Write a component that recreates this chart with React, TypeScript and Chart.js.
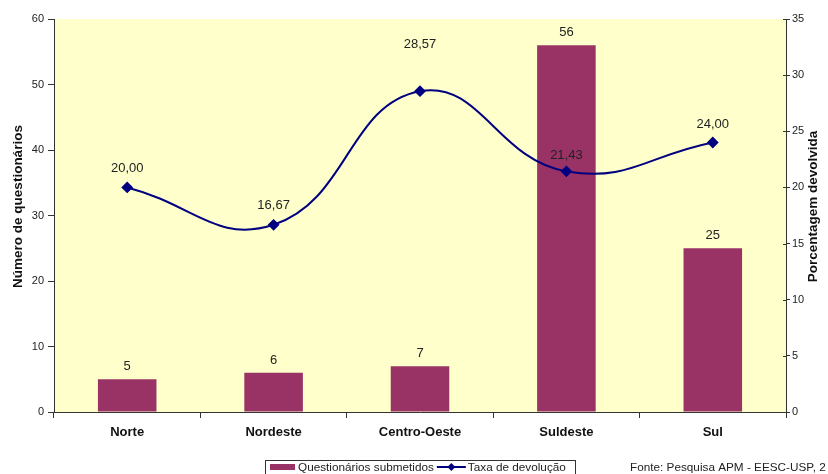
import React, { useEffect, useRef } from "react";
import { Chart, registerables } from "chart.js";

Chart.register(...registerables);

const categories = ["Norte", "Nordeste", "Centro-Oeste", "Suldeste", "Sul"];
const questionarios = [5, 6, 7, 56, 25];
const taxaDevolucao = [20.0, 16.67, 28.57, 21.43, 24.0];
const leftAxisTitle = "Número de questionários";
const rightAxisTitle = "Porcentagem devolvida";
const barLabel = "Questionários submetidos";
const lineLabel = "Taxa de devolução";
const sourceText = "Fonte: Pesquisa APM - EESC-USP, 2";

const FONT = "'Liberation Sans', Arial, sans-serif";
const BAR_COLOR = "#993366";
const LINE_COLOR = "#000080";
const PLOT_BG = "#FFFFCC";
const AXIS_COLOR = "#333333";
const TEXT_COLOR = "#222222";
const lineLabelLift = [13, 13, 40, 9, 12];

const fmt = (v: number) => v.toFixed(2).replace(".", ",");

const decorPlugin = {
  id: "decor",
  beforeDraw(chart: any) {
    const { ctx, chartArea, width, height } = chart;
    ctx.save();
    ctx.fillStyle = "#ffffff";
    ctx.fillRect(0, 0, width, height);
    ctx.fillStyle = PLOT_BG;
    ctx.fillRect(chartArea.left, chartArea.top, chartArea.right - chartArea.left, chartArea.bottom - chartArea.top);
    ctx.restore();
  },
  afterDatasetsDraw(chart: any) {
    const { ctx } = chart;
    ctx.save();
    ctx.fillStyle = TEXT_COLOR;
    ctx.font = `13px ${FONT}`;
    ctx.textAlign = "center";
    ctx.textBaseline = "bottom";
    const barMeta = chart.getDatasetMeta(1);
    barMeta.data.forEach((el: any, i: number) => {
      ctx.fillText(String(questionarios[i]), el.x, el.y - 6);
    });
    const lineMeta = chart.getDatasetMeta(0);
    lineMeta.data.forEach((el: any, i: number) => {
      ctx.fillText(fmt(taxaDevolucao[i]), el.x, el.y - lineLabelLift[i]);
    });
    ctx.restore();
  },
  afterDraw(chart: any) {
    const { ctx, chartArea } = chart;
    const midY = (chartArea.top + chartArea.bottom) / 2 - 9;

    // inward ticks on the right axis (crossing marks)
    const y1 = chart.scales.y1;
    ctx.save();
    ctx.strokeStyle = AXIS_COLOR;
    ctx.lineWidth = 1;
    y1.ticks.forEach((t: any) => {
      const py = Math.round(y1.getPixelForValue(t.value)) + 0.5;
      ctx.beginPath();
      ctx.moveTo(chartArea.right - 3, py);
      ctx.lineTo(chartArea.right, py);
      ctx.stroke();
    });
    ctx.restore();

    ctx.save();
    ctx.fillStyle = "#111111";
    ctx.font = `bold 13.5px ${FONT}`;
    ctx.textAlign = "center";
    ctx.textBaseline = "middle";
    ctx.translate(18.5, midY);
    ctx.rotate(-Math.PI / 2);
    ctx.fillText(leftAxisTitle, 0, 0);
    ctx.restore();

    ctx.save();
    ctx.fillStyle = "#111111";
    ctx.font = `bold 13.5px ${FONT}`;
    ctx.textAlign = "center";
    ctx.textBaseline = "middle";
    ctx.translate(813, midY);
    ctx.rotate(-Math.PI / 2);
    ctx.fillText(rightAxisTitle, 0, 0);
    ctx.restore();

    // legend
    ctx.save();
    const boxL = 265, boxT = 460.5, boxR = 575;
    ctx.strokeStyle = "#333333";
    ctx.lineWidth = 1;
    ctx.strokeRect(boxL + 0.5, boxT, boxR - boxL, 30);
    const cy = 467;
    ctx.fillStyle = BAR_COLOR;
    ctx.fillRect(270, cy - 3, 25, 6);
    ctx.font = `11.75px ${FONT}`;
    ctx.fillStyle = TEXT_COLOR;
    ctx.textAlign = "left";
    ctx.textBaseline = "middle";
    ctx.fillText(barLabel, 298, cy + 0.5);
    const w1 = ctx.measureText(barLabel).width;
    const lx = 298 + w1 + 3;
    ctx.strokeStyle = LINE_COLOR;
    ctx.lineWidth = 2;
    ctx.beginPath();
    ctx.moveTo(lx, cy);
    ctx.lineTo(lx + 29, cy);
    ctx.stroke();
    ctx.fillStyle = LINE_COLOR;
    ctx.beginPath();
    const dx = lx + 14.5;
    ctx.moveTo(dx, cy - 4);
    ctx.lineTo(dx + 4, cy);
    ctx.lineTo(dx, cy + 4);
    ctx.lineTo(dx - 4, cy);
    ctx.closePath();
    ctx.fill();
    ctx.fillStyle = TEXT_COLOR;
    ctx.fillText(lineLabel, lx + 31, cy + 0.5);
    ctx.fillText(sourceText, 630, cy + 0.5);
    ctx.restore();
  },
};

export default function App() {
  const ref = useRef<HTMLCanvasElement | null>(null);
  useEffect(() => {
    if (!ref.current) return;
    const chart = new Chart(ref.current, {
      type: "bar",
      data: {
        labels: categories,
        datasets: [
          {
            type: "line",
            label: lineLabel,
            data: taxaDevolucao,
            yAxisID: "y1",
            borderColor: LINE_COLOR,
            backgroundColor: LINE_COLOR,
            borderWidth: 2,
            tension: 0.45,
            pointStyle: "rectRot",
            pointRadius: 4.5,
            pointBackgroundColor: LINE_COLOR,
            pointBorderColor: LINE_COLOR,
            order: 0,
          } as any,
          {
            type: "bar",
            label: barLabel,
            data: questionarios,
            yAxisID: "y",
            backgroundColor: BAR_COLOR,
            categoryPercentage: 1,
            barPercentage: 0.4,
            order: 1,
          } as any,
        ],
      },
      options: {
        responsive: false,
        animation: false,
        devicePixelRatio: 1,
        layout: { padding: { top: 19, bottom: 32, left: 0, right: 0 } },
        plugins: {
          legend: { display: false },
          tooltip: { enabled: false },
        },
        scales: {
          x: {
            offset: true,
            grid: {
              offset: true,
              drawOnChartArea: false,
              drawTicks: true,
              tickLength: 6,
              color: AXIS_COLOR,
            },
            border: { color: AXIS_COLOR, width: 1 },
            ticks: {
              color: "#111111",
              font: { family: FONT, size: 13, weight: "bold" },
              padding: 7,
              maxRotation: 0,
            },
            afterFit: (s: any) => {
              s.height = 30;
            },
          },
          y: {
            position: "left",
            min: 0,
            max: 60,
            ticks: {
              stepSize: 10,
              color: TEXT_COLOR,
              font: { family: FONT, size: 11 },
              padding: 4,
            },
            grid: {
              drawOnChartArea: false,
              drawTicks: true,
              tickLength: 6,
              color: AXIS_COLOR,
            },
            border: { color: AXIS_COLOR, width: 1 },
            afterFit: (s: any) => {
              s.width = 54;
            },
          },
          y1: {
            position: "right",
            min: 0,
            max: 35,
            ticks: {
              stepSize: 5,
              color: TEXT_COLOR,
              font: { family: FONT, size: 11 },
              padding: 2,
            },
            grid: {
              drawOnChartArea: false,
              drawTicks: true,
              tickLength: 4,
              color: AXIS_COLOR,
            },
            border: { color: AXIS_COLOR, width: 1 },
            afterFit: (s: any) => {
              s.width = 42;
            },
          },
        },
      },
      plugins: [decorPlugin],
    });
    return () => chart.destroy();
  }, []);

  return (
    <div style={{ position: "fixed", left: 0, top: 0, width: 828, height: 474, background: "#fff" }}>
      <canvas ref={ref} width={828} height={474} style={{ width: 828, height: 474, display: "block" }} />
    </div>
  );
}
